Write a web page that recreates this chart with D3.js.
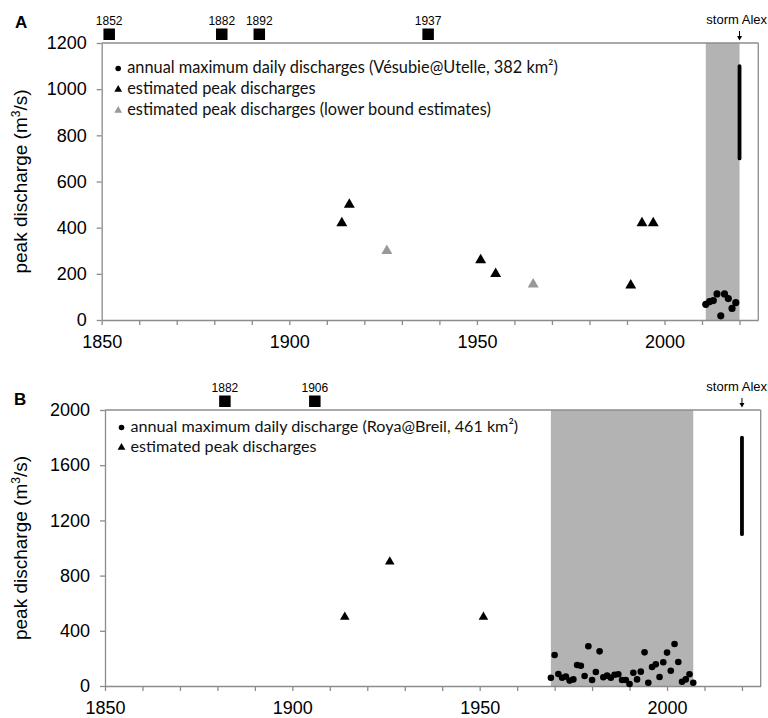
<!DOCTYPE html>
<html><head><meta charset="utf-8">
<script src="https://cdn.jsdelivr.net/npm/d3@7"></script>
<style>body{margin:0;background:#fff}svg{display:block}</style>
</head><body>
<script>
// ---------- DATA ----------
const xDomain = [1850, 2025];
const xTickValues = d3.range(1850, 2021, 10);
const xLabelYears = [1850, 1900, 1950, 2000];

// Panel A (Vésubie)
const aObsYears = [2011, 2012, 2013, 2014, 2015, 2016, 2017, 2018, 2019];
const aObsValues = [68, 80, 84, 113, 18, 113, 93, 50, 75];
const aPeakYears = [1914, 1916, 1951, 1955, 1991, 1994, 1997];
const aPeakValues = [420, 500, 260, 200, 150, 420, 420];
const aLowerYears = [1926, 1965];
const aLowerValues = [300, 155];
const aEventYears = [1852, 1882, 1892, 1937];
const aBand = [2011, 2020];
const aStorm = {year: 2020, low: 700, high: 1100};
const aYTicks = [0, 200, 400, 600, 800, 1000, 1200];
const aLegend = ["annual maximum daily discharges (Vésubie@Utelle, 382 km²)",
                 "estimated peak discharges",
                 "estimated peak discharges (lower bound estimates)"];

// Panel B (Roya)
const bObsYears = d3.range(1969, 2008);
const bObsValues = [60,225,87,60,68,39,48,152,147,72,288,43,101,251,63,75,60,82,85,43,
                    43,14,96,48,104,244,24,138,157,65,172,242,111,304,174,31,48,85,24];
const bPeakYears = [1914, 1926, 1951];
const bPeakValues = [500, 900, 500];
const bEventYears = [1882, 1906];
const bBand = [1969, 2007];
const bStorm = {year: 2020, low: 1100, high: 1800};
const bYTicks = [0, 400, 800, 1200, 1600, 2000];
const bLegend = ["annual maximum daily discharge (Roya@Breil, 461 km²)",
                 "estimated peak discharges"];

// ---------- DRAW ----------
const W = 768, H = 718;
const svg = d3.select("body").append("svg").attr("width", W).attr("height", H);
const AX = "#8c8c8c";
const tickFont = "'Liberation Sans', Arial, sans-serif";
const legFont = "Lato, 'Open Sans', sans-serif";

function panel(cfg) {
  const g = svg.append("g");
  const x = d3.scaleLinear().domain(xDomain).range([cfg.left, cfg.right]);
  const y = d3.scaleLinear().domain([0, cfg.yMax]).range([cfg.bottom, cfg.top]);

  // band
  g.append("rect")
    .attr("x", x(cfg.band[0])).attr("y", cfg.top)
    .attr("width", x(cfg.band[1]) - x(cfg.band[0]))
    .attr("height", cfg.bottom - cfg.top)
    .attr("fill", "#b3b3b3");

  // frame top/right
  g.append("line").attr("x1", cfg.left).attr("x2", cfg.right).attr("y1", cfg.top).attr("y2", cfg.top)
    .attr("stroke", AX).attr("stroke-width", 1.3);
  g.append("line").attr("x1", cfg.right).attr("x2", cfg.right).attr("y1", cfg.top).attr("y2", cfg.bottom)
    .attr("stroke", AX).attr("stroke-width", 1.3);

  // axes
  const yAx = g.append("g").attr("transform", `translate(${cfg.left},0)`)
    .call(d3.axisLeft(y).tickValues(cfg.yTicks).tickSize(5).tickSizeOuter(0).tickPadding(10).tickFormat(d3.format("d")));
  const xAx = g.append("g").attr("transform", `translate(0,${cfg.bottom})`)
    .call(d3.axisBottom(x).tickValues(xTickValues).tickSize(5).tickSizeOuter(0).tickPadding(10)
      .tickFormat(d => xLabelYears.includes(d) ? d : ""));
  [yAx, xAx].forEach(a => {
    a.selectAll("path,line").attr("stroke", AX).attr("stroke-width", 1.3);
    a.selectAll("text").attr("fill", "#000").style("font-family", tickFont).style("font-size", "18px");
  });

  // y label
  const yl = g.append("text")
    .attr("transform", `translate(27,${(cfg.top + cfg.bottom) / 2}) rotate(-90)`)
    .attr("text-anchor", "middle")
    .style("font-family", tickFont).style("font-size", "19px");
  yl.append("tspan").text("peak discharge (m");
  yl.append("tspan").text("3").attr("baseline-shift", "super").style("font-size", "12px");
  yl.append("tspan").text("/s)");

  // panel letter
  g.append("text").attr("x", cfg.letterX).attr("y", cfg.letterY).text(cfg.letter)
    .style("font-family", tickFont).style("font-size", "17px").style("font-weight", "bold");

  // historic event squares
  const sq = 11.5;
  g.selectAll(".ev").data(cfg.events).enter().append("rect")
    .attr("x", d => x(d) - sq / 2).attr("y", cfg.top - 3 - sq)
    .attr("width", sq).attr("height", sq).attr("fill", "#000");
  g.selectAll(".evl").data(cfg.events).enter().append("text")
    .attr("x", d => x(d)).attr("y", cfg.top - 18).attr("text-anchor", "middle")
    .text(d => d).style("font-family", tickFont).style("font-size", "12px");

  // storm Alex
  const sx = x(cfg.storm.year);
  g.append("text").attr("x", W - 1).attr("y", cfg.top - 19).attr("text-anchor", "end")
    .text("storm Alex").style("font-family", tickFont).style("font-size", "13px");
  g.append("line").attr("x1", sx).attr("x2", sx).attr("y1", cfg.top - 12).attr("y2", cfg.top - 6)
    .attr("stroke", "#000").attr("stroke-width", 1);
  g.append("path").attr("d", `M${sx - 2.5},${cfg.top - 7} L${sx + 2.5},${cfg.top - 7} L${sx},${cfg.top - 2.5} Z`)
    .attr("fill", "#000");
  g.append("line").attr("x1", sx).attr("x2", sx)
    .attr("y1", y(cfg.storm.low)).attr("y2", y(cfg.storm.high))
    .attr("stroke", "#000").attr("stroke-width", 3.8).attr("stroke-linecap", "round");

  // markers
  const tri = d3.symbol().type(d3.symbolTriangle).size(cfg.triSize);
  cfg.peaks.forEach(p => {
    g.selectAll(null).data(p.years.map((yr, i) => [yr, p.values[i]])).enter().append("path")
      .attr("d", tri).attr("transform", d => `translate(${x(d[0])},${y(d[1])})`)
      .attr("fill", p.color);
  });
  g.selectAll(".obs").data(cfg.obsYears.map((yr, i) => [yr, cfg.obsValues[i]])).enter().append("circle")
    .attr("cx", d => x(d[0])).attr("cy", d => y(d[1])).attr("r", cfg.r).attr("fill", "#000");

  // legend
  const lx = cfg.left + 16.5;
  cfg.legend.forEach((t, i) => {
    const yy = cfg.legY + i * cfg.legDy;
    if (i === 0) {
      g.append("circle").attr("cx", lx).attr("cy", yy - 4.5).attr("r", 2.8).attr("fill", "#000");
    } else {
      g.append("path").attr("d", d3.symbol().type(d3.symbolTriangle).size(26))
        .attr("transform", `translate(${lx},${yy - 4.5})`)
        .attr("fill", i === 2 ? "#999" : "#000");
    }
    const tx = g.append("text").attr("x", lx + 9).attr("y", yy).text(t)
      .style("font-family", legFont).style("font-size", "15px").attr("fill", "#111");
    if (i === 0) {
      const len = tx.node().getComputedTextLength();
      cfg._fs = 15 * cfg.legW / len;
    }
    tx.style("font-size", cfg._fs + "px");
  });
}

panel({
  left: 101.7, right: 758.3, top: 43, bottom: 320, yMax: 1200, yTicks: aYTicks,
  band: aBand, storm: aStorm, events: aEventYears, letter: "A", letterX: 15, letterY: 28,
  peaks: [{years: aPeakYears, values: aPeakValues, color: "#000"},
          {years: aLowerYears, values: aLowerValues, color: "#999"}],
  obsYears: aObsYears, obsValues: aObsValues, r: 3.6, triSize: 52,
  legend: aLegend, legY: 73, legDy: 21, legW: 431
});

panel({
  left: 105, right: 760.7, top: 410, bottom: 686, yMax: 2000, yTicks: bYTicks,
  band: bBand, storm: bStorm, events: bEventYears, letter: "B", letterX: 14, letterY: 405,
  peaks: [{years: bPeakYears, values: bPeakValues, color: "#000"}],
  obsYears: bObsYears, obsValues: bObsValues, r: 3.3, triSize: 40,
  legend: bLegend, legY: 432, legDy: 20, legW: 388
});
</script>
</body></html>
